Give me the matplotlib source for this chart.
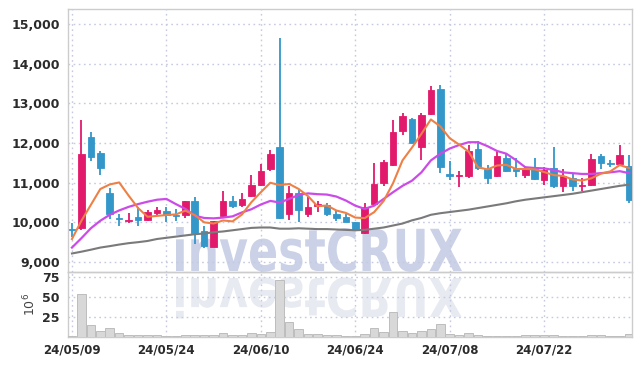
import matplotlib
matplotlib.use("Agg")
import matplotlib.pyplot as plt
import numpy as np
from matplotlib.textpath import TextPath
from matplotlib.patches import PathPatch
from matplotlib.font_manager import FontProperties, fontManager
from matplotlib.transforms import Affine2D
from matplotlib.ticker import FuncFormatter, FixedLocator

# ---- data ----
tick_idx = [0, 10, 20, 30, 40, 50]
tick_labels = ['24/05/09', '24/05/24', '24/06/10', '24/06/24', '24/07/08', '24/07/22']

opens = [9840, 9850, 12160, 11740, 10750, 10110, 10040, 10140, 10060, 10240,
         10290, 10190, 10190, 10540, 9790, 9380, 10170, 10540, 10440, 10670,
         10950, 11350, 11910, 10210, 10740, 10210, 10400, 10440, 10220, 10140,
         10010, 9740, 10460, 10980, 11450, 12300, 12610, 11900, 12740, 13370,
         11220, 11170, 11160, 11860, 11350, 11160, 11620, 11340, 11200, 11340,
         11070, 11370, 10920, 11110, 10910, 10940, 11680, 11490, 11470, 11430]
highs = [9990, 12590, 12290, 11800, 10870, 10220, 10230, 10380, 10320, 10390,
         10380, 10340, 10550, 10650, 9910, 10040, 10780, 10670, 10730, 11200,
         11470, 11830, 14640, 10920, 10820, 10630, 10540, 10500, 10290, 10210,
         10020, 10500, 11490, 11560, 12570, 12760, 12620, 12760, 13430, 13460,
         11540, 11300, 11960, 12050, 11450, 11790, 11730, 11620, 11410, 11620,
         11390, 11910, 11350, 11220, 11120, 11730, 11730, 11560, 11940, 11710]
lows = [9620, 9800, 11550, 11200, 10080, 9910, 9980, 9910, 10040, 10180,
        10000, 10030, 10100, 9450, 9350, 9370, 10100, 10360, 10380, 10630,
        10920, 11290, 10080, 10060, 10000, 10140, 10270, 10160, 10040, 10000,
        9790, 9710, 10420, 10920, 11430, 12210, 11990, 11560, 12700, 11240,
        11070, 10900, 11120, 11320, 10970, 11150, 11280, 11150, 11130, 11070,
        10950, 10860, 10760, 10800, 10800, 10920, 11350, 11400, 11460, 10500]
closes = [9810, 11730, 11640, 11370, 10210, 10080, 10070, 10070, 10270, 10320,
          10190, 10150, 10540, 9720, 9400, 10040, 10540, 10420, 10590, 10950,
          11300, 11730, 10120, 10740, 10320, 10390, 10460, 10210, 10110, 10020,
          9800, 10390, 10970, 11510, 12270, 12670, 12000, 12700, 13330, 11400,
          11170, 11200, 11810, 11360, 11130, 11660, 11290, 11290, 11350, 11090,
          11320, 10910, 11180, 10910, 10950, 11600, 11490, 11470, 11710, 10570]
ma5 = [9580, 10040, 10440, 10840, 10956, 11006, 10674, 10360, 10140, 10162,
       10184, 10200, 10294, 10184, 10000, 9970, 10048, 10024, 10198, 10508,
       10760, 10998, 10938, 10968, 10842, 10660, 10406, 10424, 10298, 10238,
       10120, 10106, 10258, 10538, 10988, 11562, 11884, 12230, 12594, 12420,
       12120, 11960, 11782, 11388, 11334, 11432, 11450, 11346, 11344, 11336,
       11268, 11192, 11170, 11082, 11054, 11110, 11226, 11284, 11444, 11368]
ma20 = [9364, 9600, 9850, 10040, 10190, 10300, 10390, 10460, 10520, 10570,
        10590, 10460, 10340, 10170, 10110, 10100, 10120, 10150, 10250, 10330,
        10450, 10540, 10500, 10590, 10690, 10730, 10710, 10700, 10650, 10550,
        10420, 10340, 10420, 10590, 10760, 10920, 11050, 11260, 11560, 11730,
        11860, 11950, 12020, 12020, 11920, 11800, 11730, 11570, 11390, 11370,
        11360, 11320, 11260, 11240, 11220, 11220, 11240, 11260, 11290, 11240]
ma_long = [9215, 9260, 9310, 9364, 9400, 9440, 9475, 9500, 9530, 9580,
           9610, 9640, 9670, 9700, 9720, 9750, 9770, 9800, 9830, 9860,
           9870, 9870, 9840, 9840, 9850, 9840, 9830, 9830, 9820, 9810,
           9800, 9810, 9840, 9870, 9920, 9970, 10050, 10110, 10190, 10230,
           10260, 10290, 10320, 10360, 10400, 10440, 10480, 10530, 10570, 10600,
           10630, 10660, 10690, 10720, 10760, 10800, 10840, 10880, 10920, 10950]
volume_m = [1.5, 53, 14.6, 7.7, 10.6, 4.5, 2.4, 2.9, 2.9, 2.0,
            1.6, 1.5, 2.0, 3.0, 2.4, 2.4, 4.5, 2.4, 2.4, 4.5,
            3.6, 5.7, 71.5, 18.7, 9.4, 4.0, 3.5, 2.5, 2.0, 1.5,
            1.5, 3.2, 10.6, 5.7, 30.9, 7.7, 5.2, 7.0, 9.4, 16.7,
            4.0, 3.0, 4.5, 2.5, 1.5, 1.5, 1.5, 1.5, 2.0, 2.0,
            2.5, 2.0, 1.5, 1.2, 1.2, 2.5, 2.0, 1.2, 1.5, 3.5]

# ---- style ----
UP = '#E21A6C'
DOWN = '#3397C9'
GRID = '#C5CAE0'
SPINE = '#CCCCCC'
TXT = '#2B2B2B'

names = {f.name for f in fontManager.ttflist}
if 'Liberation Sans Narrow' in names:
    ytick_fp = FontProperties(family='Liberation Sans Narrow', weight='bold', size=10.5)
    xtick_fp = FontProperties(family='Liberation Sans Narrow', weight='bold', size=10)
else:
    ytick_fp = FontProperties(family='DejaVu Sans', weight='bold', size=9.0)
    xtick_fp = FontProperties(family='DejaVu Sans', weight='bold', size=8.5)

W, H = 642, 366
fig = plt.figure(figsize=(W / 100, H / 100), dpi=100)
fig.patch.set_facecolor('white')

L, R = 68, 632
top1, bot1 = 9.3, 272
top2, bot2 = 272, 337
ax1 = fig.add_axes([L / W, (H - bot1) / H, (R - L) / W, (bot1 - top1) / H])
ax2 = fig.add_axes([L / W, (H - bot2) / H, (R - L) / W, (bot2 - top2) / H], sharex=ax1)
for ax in (ax1, ax2):
    ax.set_facecolor('none')
    for s in ax.spines.values():
        s.set_color(SPINE)
        s.set_linewidth(1.0)

n = len(closes)
x = np.arange(n)

# watermark (behind data)
fp = FontProperties(family='DejaVu Sans', weight='bold')
tp = TextPath((0, 0), 'investCRUX', prop=fp)
ext = tp.get_extents()
wx0, wx1 = 176, 462
sx = (wx1 - wx0) / ext.width
sy = 44 / ext.y1
t_main = Affine2D().translate(-ext.x0, 0).scale(sx, sy).translate(wx0, H - 271) \
    + Affine2D().scale(1 / W, 1 / H) + fig.transFigure
fig.patches.append(PathPatch(tp, transform=t_main, facecolor='#CBD1E6', edgecolor='none', zorder=-5))
t_ref = Affine2D().translate(-ext.x0, 0).scale(sx, -sy * 0.92).translate(wx0, H - 278) \
    + Affine2D().scale(1 / W, 1 / H) + fig.transFigure
fig.patches.append(PathPatch(tp, transform=t_ref, facecolor='#E8EAF2', edgecolor='none', zorder=-5))

# grids
for ax in (ax1, ax2):
    ax.set_axisbelow(True)
    ax.grid(True, color=GRID, linestyle=(0, (1.2, 2.5)), linewidth=1.0)

# candles
bw = 0.7
for i in range(n):
    o, h, l, c = opens[i], highs[i], lows[i], closes[i]
    col = UP if c >= o else DOWN
    ax1.vlines(x[i], l, h, color=col, linewidth=1.3, zorder=3)
    lo, hi = min(o, c), max(o, c)
    if hi - lo < 25:
        lo, hi = (lo + hi) / 2 - 12, (lo + hi) / 2 + 12
    ax1.bar(x[i], hi - lo, bottom=lo, width=bw, color=col, edgecolor=col, linewidth=0.6, zorder=4)

ax1.plot(x, ma_long, color='#7A7A7A', linewidth=1.5, zorder=5)
ax1.plot(x, ma20, color='#CC4BE8', linewidth=1.6, zorder=5)
ax1.plot(x, ma5, color='#EE8045', linewidth=1.5, zorder=6)

ax1.set_xlim(-0.42, 59.3)
ax1.set_ylim(8748, 15371)
ax1.yaxis.set_major_locator(FixedLocator([9000, 10000, 11000, 12000, 13000, 14000, 15000]))
ax1.yaxis.set_major_formatter(FuncFormatter(lambda v, p: f'{v:,.0f}'))
ax1.tick_params(axis='y', length=0, pad=6, colors=TXT)
ax1.tick_params(axis='x', length=0, labelbottom=False)

# volume
ax2.bar(x, volume_m, width=0.9, color='#D8D8D8', edgecolor='#BDBDBD', linewidth=0.7, zorder=3)
ax2.set_ylim(0, 81)
ax2.yaxis.set_major_locator(FixedLocator([25, 50, 75]))
ax2.tick_params(axis='y', length=0, pad=6, colors=TXT)
ax2.set_ylabel(r'$10^6$', fontsize=9, color='#444444', labelpad=3)
ax2.set_xticks(tick_idx)
ax2.set_xticklabels(tick_labels)
ax2.tick_params(axis='x', length=0, pad=5, colors=TXT)

fig.canvas.draw()
for lab in ax1.get_yticklabels() + ax2.get_yticklabels():
    lab.set_fontproperties(ytick_fp)
    lab.set_color(TXT)
for lab in ax2.get_xticklabels():
    lab.set_fontproperties(xtick_fp)
    lab.set_color(TXT)

fig.savefig('out.png', dpi=100, facecolor='white')
